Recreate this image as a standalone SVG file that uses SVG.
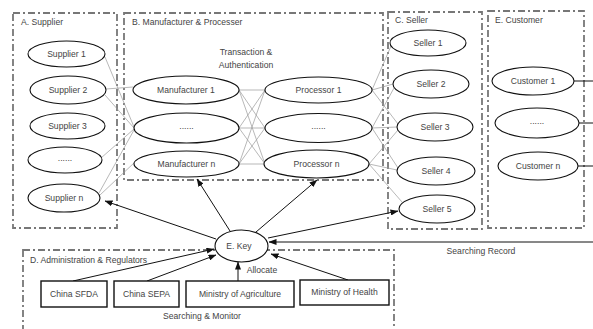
<svg xmlns="http://www.w3.org/2000/svg" width="593" height="329" viewBox="0 0 593 329">
<style>
.grp{fill:none;stroke:#777;stroke-width:1.8;stroke-dasharray:7 3 2 3}
.nd{fill:#fff;stroke:#111;stroke-width:1.1}
.bx{fill:#fff;stroke:#111;stroke-width:1.4}
.t{font-family:"Liberation Sans",Arial,sans-serif;font-size:8.6px;fill:#444;text-anchor:middle}
.lb{font-family:"Liberation Sans",Arial,sans-serif;font-size:8.6px;fill:#444}
.thin{stroke:#999;stroke-width:0.7;fill:none}
.arr{stroke:#111;stroke-width:1;fill:none;marker-end:url(#ah)}
</style>
<defs>
<marker id="ah" markerUnits="userSpaceOnUse" markerWidth="8" markerHeight="6" refX="7.5" refY="3" orient="auto">
<path d="M0,0 L8,3 L0,6 z" fill="#111"/>
</marker>
</defs>
<rect width="593" height="329" fill="#fff"/>

<g id="groups">
<rect class="grp" x="13" y="13" width="104" height="215"/>
<rect class="grp" x="124" y="13" width="259" height="167"/>
<rect class="grp" x="388" y="12" width="94" height="217"/>
<rect class="grp" x="488" y="11" width="96" height="217"/>
<rect class="grp" x="23" y="250" width="371" height="90"/>
<text class="lb" x="21" y="25">A. Supplier</text>
<text class="lb" x="132" y="25">B. Manufacturer &amp; Processer</text>
<text class="lb" x="395" y="23">C. Seller</text>
<text class="lb" x="495" y="23">E. Customer</text>
<text class="lb" x="30" y="263">D. Administration &amp; Regulators</text>
<text class="t" x="246" y="55">Transaction &amp;</text>
<text class="t" x="246" y="68">Authentication</text>
</g>

<g id="connectors">
<line class="thin" x1="105" y1="57" x2="134" y2="127"/>
<line class="thin" x1="106" y1="89" x2="133" y2="87"/>
<line class="thin" x1="105" y1="95" x2="134" y2="128"/>
<line class="thin" x1="101" y1="158" x2="134" y2="129"/>
<line class="thin" x1="99" y1="193" x2="134" y2="130"/>
<line class="thin" x1="100" y1="195" x2="135" y2="162"/>

<line class="thin" x1="239" y1="90" x2="265" y2="90"/>
<line class="thin" x1="239" y1="90" x2="265" y2="128"/>
<line class="thin" x1="239" y1="90" x2="265" y2="164"/>
<line class="thin" x1="239" y1="128" x2="265" y2="90"/>
<line class="thin" x1="239" y1="128" x2="265" y2="128"/>
<line class="thin" x1="239" y1="128" x2="265" y2="164"/>
<line class="thin" x1="239" y1="164" x2="265" y2="90"/>
<line class="thin" x1="239" y1="164" x2="265" y2="128"/>
<line class="thin" x1="239" y1="164" x2="265" y2="164"/>

<line class="thin" x1="372" y1="90" x2="391" y2="46"/>
<line class="thin" x1="372" y1="90" x2="393" y2="84"/>
<line class="thin" x1="372" y1="90" x2="398" y2="124"/>
<line class="thin" x1="372" y1="128" x2="394" y2="88"/>
<line class="thin" x1="372" y1="128" x2="397" y2="127"/>
<line class="thin" x1="372" y1="128" x2="398" y2="168"/>
<line class="thin" x1="369" y1="164" x2="398" y2="130"/>
<line class="thin" x1="369" y1="164" x2="397" y2="170"/>
<line class="thin" x1="369" y1="164" x2="402" y2="202"/>

<line stroke="#111" stroke-width="1" x1="574" y1="81" x2="593" y2="81"/>
<line stroke="#111" stroke-width="1" x1="579" y1="123" x2="593" y2="123"/>
<line stroke="#111" stroke-width="1" x1="578" y1="166" x2="593" y2="166"/>

<line class="arr" x1="216" y1="239" x2="105" y2="201"/>
<line class="arr" x1="230" y1="231" x2="197" y2="179"/>
<line class="arr" x1="256" y1="232" x2="317" y2="180"/>
<line class="arr" x1="268" y1="238" x2="398" y2="211"/>
<line class="arr" stroke="#555" x1="593" y1="242" x2="269" y2="242"/>
<line class="arr" x1="73" y1="281" x2="214" y2="249"/>
<line class="arr" x1="147" y1="281" x2="216" y2="255"/>
<line class="arr" x1="238" y1="281" x2="238" y2="262"/>
<line class="arr" x1="348" y1="280" x2="271" y2="254"/>
<text class="t" x="262" y="273">Allocate</text>
<text class="t" x="202" y="319">Searching &amp; Monitor</text>
<text class="t" x="481" y="254">Searching Record</text>
</g>

<g id="supplier1"><ellipse class="nd" cx="66.5" cy="54" rx="38.5" ry="13"/><text class="t" x="66.5" y="57">Supplier 1</text></g>
<g id="supplier2"><ellipse class="nd" cx="68" cy="90" rx="38" ry="14"/><text class="t" x="68" y="93">Supplier 2</text></g>
<g id="supplier3"><ellipse class="nd" cx="67.5" cy="126" rx="37.5" ry="13"/><text class="t" x="67.5" y="129">Supplier 3</text></g>
<g id="supplierdots"><ellipse class="nd" cx="65" cy="160" rx="37" ry="13"/><text class="t" x="65" y="161">......</text></g>
<g id="suppliern"><ellipse class="nd" cx="64" cy="198" rx="36" ry="14"/><text class="t" x="64" y="201">Supplier n</text></g>

<g id="manufacturer1"><ellipse class="nd" cx="186" cy="90" rx="53" ry="14"/><text class="t" x="186" y="93">Manufacturer 1</text></g>
<g id="manufacturerdots"><ellipse class="nd" cx="186.5" cy="128" rx="52.5" ry="15"/><text class="t" x="186.5" y="129">......</text></g>
<g id="manufacturern"><ellipse class="nd" cx="186.5" cy="164" rx="52.5" ry="13"/><text class="t" x="186.5" y="167">Manufacturer n</text></g>

<g id="processor1"><ellipse class="nd" cx="318.5" cy="90" rx="53.5" ry="13"/><text class="t" x="318.5" y="93">Processor 1</text></g>
<g id="processordots"><ellipse class="nd" cx="318.5" cy="128" rx="53.5" ry="14.5"/><text class="t" x="318.5" y="129">......</text></g>
<g id="processorn"><ellipse class="nd" cx="316.5" cy="164" rx="52.5" ry="14"/><text class="t" x="316.5" y="167">Processor n</text></g>

<g id="seller1"><ellipse class="nd" cx="428" cy="43" rx="38" ry="13"/><text class="t" x="428" y="46">Seller 1</text></g>
<g id="seller2"><ellipse class="nd" cx="431" cy="84" rx="38" ry="14"/><text class="t" x="431" y="87">Seller 2</text></g>
<g id="seller3"><ellipse class="nd" cx="435" cy="127" rx="38" ry="14"/><text class="t" x="435" y="130">Seller 3</text></g>
<g id="seller4"><ellipse class="nd" cx="436" cy="171" rx="39" ry="14"/><text class="t" x="436" y="174">Seller 4</text></g>
<g id="seller5"><ellipse class="nd" cx="437" cy="209" rx="38" ry="14"/><text class="t" x="437" y="212">Seller 5</text></g>

<g id="customer1"><ellipse class="nd" cx="533" cy="81" rx="41" ry="14"/><text class="t" x="533" y="84">Customer 1</text></g>
<g id="customerdots"><ellipse class="nd" cx="537" cy="123" rx="42" ry="15"/><text class="t" x="537" y="124">......</text></g>
<g id="customern"><ellipse class="nd" cx="538" cy="166" rx="40" ry="14"/><text class="t" x="538" y="169">Customer n</text></g>

<g id="ekey"><ellipse class="nd" cx="241.5" cy="246" rx="26.5" ry="16"/><text class="t" x="239" y="249">E. Key</text></g>

<g id="sfda"><rect class="bx" x="41" y="281" width="66" height="26"/><text class="t" x="74" y="297">China SFDA</text></g>
<g id="sepa"><rect class="bx" x="114" y="281" width="65" height="26"/><text class="t" x="146.5" y="297">China SEPA</text></g>
<g id="agriculture"><rect class="bx" x="186" y="281" width="108" height="26"/><text class="t" x="240" y="297">Ministry of Agriculture</text></g>
<g id="health"><rect class="bx" x="300" y="280" width="89" height="25"/><text class="t" x="344.5" y="295">Ministry of Health</text></g>
</svg>
